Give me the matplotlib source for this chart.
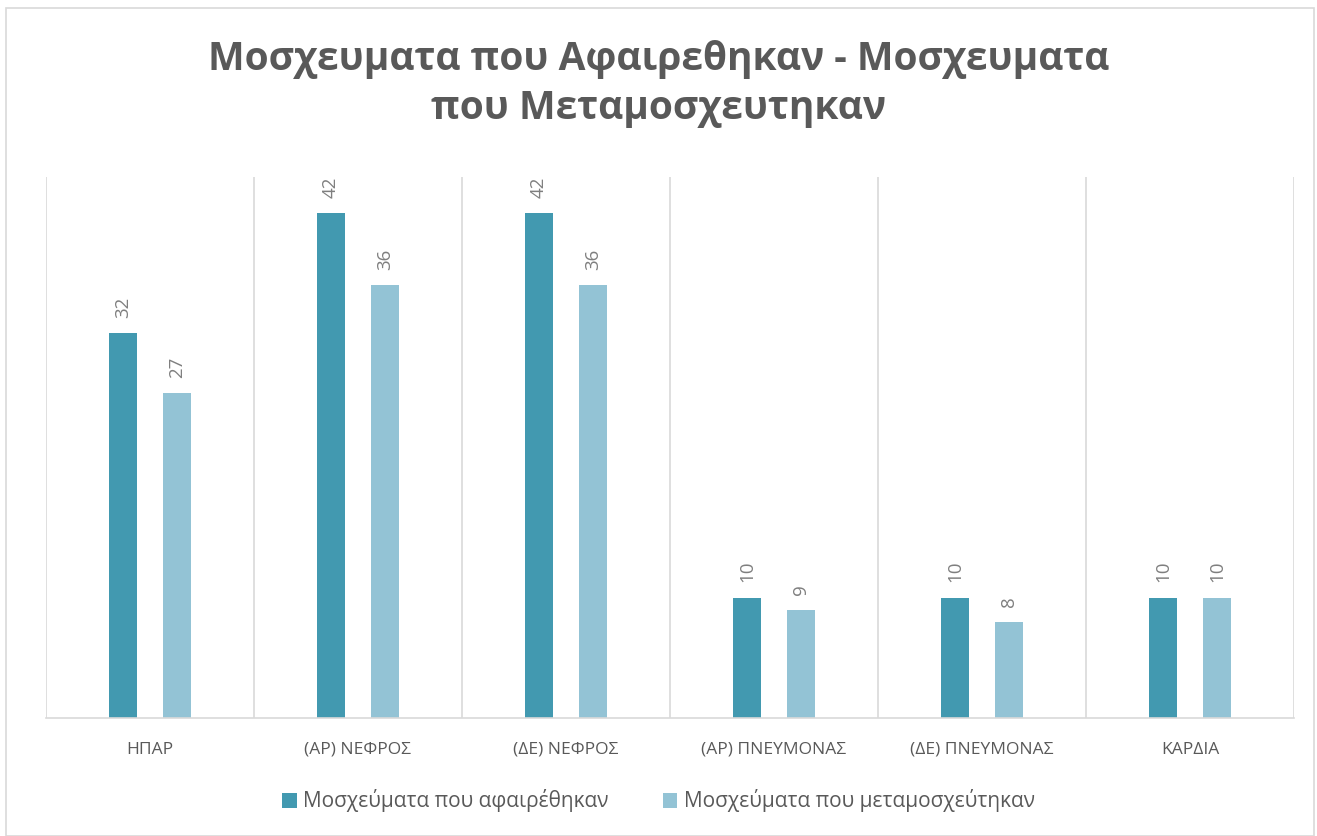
import matplotlib
matplotlib.use("Agg")
import matplotlib.pyplot as plt
from matplotlib.patches import Rectangle
import numpy as np

categories = ["ΗΠΑΡ", "(ΑΡ) ΝΕΦΡΟΣ", "(ΔΕ) ΝΕΦΡΟΣ", "(ΑΡ) ΠΝΕΥΜΟΝΑΣ", "(ΔΕ) ΠΝΕΥΜΟΝΑΣ", "ΚΑΡΔΙΑ"]
removed = [32, 42, 42, 10, 10, 10]
transplanted = [27, 36, 36, 9, 8, 10]
series_names = ["Μοσχεύματα που αφαιρέθηκαν", "Μοσχεύματα που μεταμοσχεύτηκαν"]
title = "Μοσχευματα που Αφαιρεθηκαν - Μοσχευματα\nπου Μεταμοσχευτηκαν"

W, H = 1317, 836
fig = plt.figure(figsize=(W / 100, H / 100), dpi=100)
plt.rcParams['font.family'] = ['Open Sans', 'DejaVu Sans']

# outer frame
fig.patches.append(Rectangle((6 / W, 0), (1314 - 6) / W, (H - 8) / H, transform=fig.transFigure,
                             fill=False, edgecolor="#d9d9d9", linewidth=1.2))

left, right, top, bottom = 46, 1294, 177, 718
ax = fig.add_axes([left / W, 1 - bottom / H, (right - left) / W, (bottom - top) / H])

c1, c2 = "#4299b0", "#93c3d5"
x = np.arange(len(categories))
bw = 0.135
off = 0.13
b1 = ax.bar(x - off, removed, bw, color=c1, label=series_names[0])
b2 = ax.bar(x + off, transplanted, bw, color=c2, label=series_names[1])

for bars, vals in ((b1, removed), (b2, transplanted)):
    for b, v in zip(bars, vals):
        ax.annotate(str(v), (b.get_x() + b.get_width() / 2, v), xytext=(0, 11), textcoords="offset points",
                    rotation=90, ha="center", va="bottom", fontsize=13.5, color="#7f7f7f")

ax.set_xlim(-0.5, len(categories) - 0.5)
ax.set_ylim(0, 45)
ax.set_yticks([])
for b in np.arange(-0.5, len(categories) + 0.5, 1):
    ax.axvline(b, color="#d9d9d9", linewidth=1.2, zorder=0)
for s in ["top", "right", "left"]:
    ax.spines[s].set_visible(False)
ax.spines["bottom"].set_color("#d9d9d9")
ax.spines["bottom"].set_linewidth(1.2)
ax.set_xticks(x)
ax.set_xticklabels(categories, fontsize=12.5, color="#595959")
ax.tick_params(axis="x", length=0, pad=17)

fig.text(0.5, 1 - 84 / H, title, ha="center", va="center", fontsize=28, fontweight="bold",
         color="#595959", linespacing=1.32)

fig.legend(loc="center", bbox_to_anchor=(0.5, 1 - 801 / H), ncol=2, frameon=False, fontsize=15,
           handlelength=0.7, handleheight=0.7, handletextpad=0.3, columnspacing=2.6, labelcolor="#595959")

fig.savefig("out.png", dpi=100)
